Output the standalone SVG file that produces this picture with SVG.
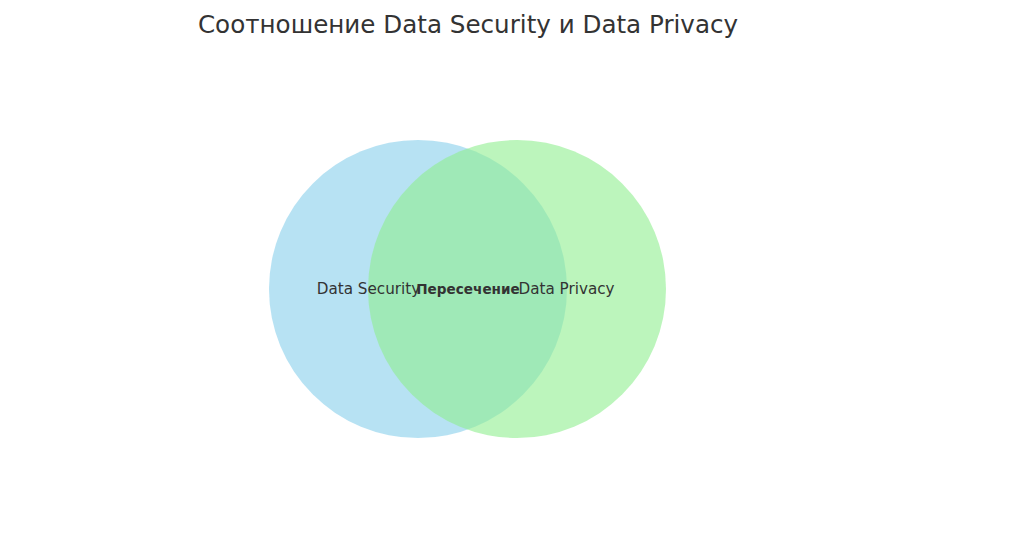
<svg xmlns="http://www.w3.org/2000/svg" width="1024" height="554" viewBox="0 0 1024 554">
<style>
  .t { font-family: "DejaVu Sans", "Liberation Sans", sans-serif; fill: #333333; }
  .lbl { font-size: 15.2px; text-anchor: middle; }
  .mid { font-size: 13.6px; font-weight: bold; text-anchor: middle; }
</style>
<rect x="0" y="0" width="1024" height="554" fill="#ffffff"/>
<text class="t" x="468" y="33" font-size="24.6" text-anchor="middle">Соотношение Data Security и Data Privacy</text>
<g id="data-security">
  <circle cx="418" cy="289" r="149" fill="#87CEEB" fill-opacity="0.6"/>
</g>
<g id="data-privacy">
  <circle cx="517" cy="289" r="149" fill="#90EE90" fill-opacity="0.6"/>
</g>
<g id="labels">
  <text class="t lbl" x="368.5" y="294">Data Security</text>
  <text class="t mid" x="468" y="294">Пересечение</text>
  <text class="t lbl" x="566.5" y="294">Data Privacy</text>
</g>
<g id="connectors"></g>
</svg>
